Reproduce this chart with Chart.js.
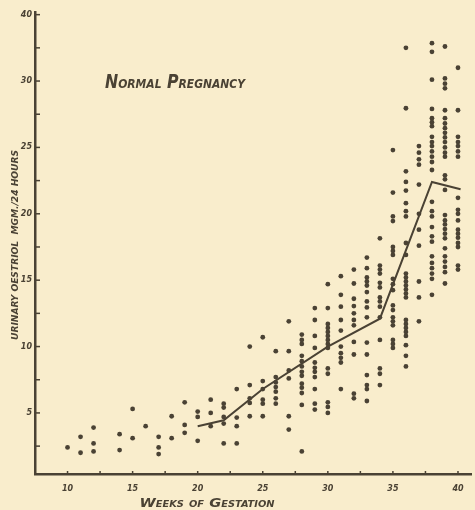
<!DOCTYPE html>
<html>
<head>
<meta charset="utf-8">
<script src="https://cdn.jsdelivr.net/npm/chart.js@4.4.1/dist/chart.umd.min.js"></script>
<style>
  html, body { margin: 0; padding: 0; background: #f9edcc; }
  #wrap { width: 475px; height: 510px; }
</style>
</head>
<body>
<div id="wrap"><canvas id="chart" width="475" height="510"></canvas></div>
<script>
// weeks of gestation that have readings
const weeks = [10, 11, 12, 14, 15, 16, 17, 18, 19, 20, 21, 22, 23, 24, 25, 26, 27, 28, 29, 30, 31, 32, 33, 34, 35, 36, 37, 38, 39, 40];

// urinary oestriol, mgm / 24 hours, one list per week
const oestriol = [
  [2.4],
  [3.2, 2.0],
  [3.9, 2.7, 2.1],
  [3.4, 2.2],
  [5.3, 3.1],
  [4.0],
  [3.2, 2.4, 1.9],
  [4.75, 3.1],
  [5.8, 4.1, 3.5],
  [5.1, 4.7, 2.9],
  [6.0, 5.0, 4.0],
  [5.7, 5.4, 4.7, 4.2, 2.7],
  [6.8, 4.65, 4.0, 2.7],
  [10.0, 7.1, 6.1, 5.75, 4.75],
  [10.7, 7.4, 6.8, 6.0, 5.7, 4.75],
  [9.65, 7.7, 7.3, 6.95, 6.6, 6.1, 5.7],
  [11.9, 9.65, 8.2, 7.6, 4.75, 3.75],
  [10.9, 10.5, 10.2, 9.3, 8.9, 8.5, 8.1, 7.8, 7.2, 6.9, 6.5, 5.6, 2.1],
  [12.9, 12.0, 10.8, 9.9, 8.8, 8.4, 8.1, 7.7, 6.8, 5.7, 5.25],
  [14.7, 12.9, 11.7, 11.4, 11.1, 10.8, 10.5, 10.2, 9.9, 8.35, 7.95, 5.8, 5.45, 5.0],
  [15.3, 13.9, 13.0, 12.0, 11.2, 10.0, 9.5, 9.15, 8.8, 6.8],
  [15.8, 14.75, 13.6, 13.05, 12.5, 12.0, 11.6, 10.35, 9.4, 6.45, 6.1],
  [16.7, 15.9, 15.2, 14.9, 14.6, 14.1, 13.4, 12.95, 12.2, 10.3, 9.4, 7.85, 7.1, 6.8, 5.9],
  [18.15, 16.1, 15.8, 15.5, 14.8, 14.45, 13.7, 13.4, 13.0, 12.2, 10.5, 8.35, 7.95, 7.1],
  [24.8, 21.6, 19.8, 19.45, 17.5, 17.2, 16.9, 15.1, 14.7, 14.25, 13.1, 12.75, 12.2, 11.9, 11.6, 10.5, 10.2, 9.9],
  [32.5, 27.95, 23.2, 22.4, 21.75, 20.8, 20.2, 19.8, 17.8, 16.9, 15.5, 15.2, 14.9, 14.6, 14.3, 14.0, 13.7, 12.0, 11.7, 11.4, 11.1, 10.8, 10.1, 9.3, 8.5],
  [25.1, 24.6, 24.1, 23.7, 22.2, 20.0, 18.8, 17.6, 14.9, 13.7, 11.9],
  [32.85, 32.2, 30.1, 27.9, 27.2, 26.9, 26.6, 25.8, 25.4, 25.1, 24.7, 24.3, 23.9, 23.3, 20.9, 20.2, 19.8, 19.0, 18.3, 17.9, 16.8, 16.3, 15.9, 15.5, 15.1, 13.9],
  [32.6, 30.2, 29.8, 29.45, 27.8, 27.2, 26.8, 26.45, 26.1, 25.75, 25.4, 25.0, 24.6, 24.3, 22.9, 22.6, 21.8, 19.9, 19.5, 19.2, 18.85, 18.5, 18.15, 17.4, 16.8, 16.4, 16.0, 15.6, 14.75],
  [31.0, 27.8, 25.8, 25.4, 25.1, 24.7, 24.3, 21.2, 20.3, 20.0, 19.5, 18.8, 18.5, 18.2, 17.8, 17.5, 16.1, 15.8]
];

// the drawn mean line
const meanWeeks = [20, 22, 25, 30, 34, 38, 40.2];
const meanValues = [4.0, 4.45, 6.8, 10.0, 12.1, 22.4, 21.85];

// axis ticks (every 2.5, labelled every 5, as hand drawn)
const xTickValues = [10, 12.5, 15, 17.5, 20, 22.5, 25, 27.5, 30, 32.5, 35, 37.5, 40];
const xTickLabels = ["10", "", "15", "", "20", "", "25", "", "30", "", "35", "", "40"];
const yTickValues = [2.5, 5, 7.5, 10, 12.5, 15, 17.5, 20, 22.5, 25, 27.5, 30, 32.5, 35];
const yTickLabels = ["", "5", "", "10", "", "15", "", "20", "", "25", "", "30", "", "40"];

const ink = "#4a4234";
const handFont = '"DejaVu Sans"';

let points = [];
weeks.forEach((w, i) => {
  oestriol[i].forEach(v => points.push({x: w, y: v}));
});
let meanLine = meanWeeks.map((w, i) => ({x: w, y: meanValues[i]}));

// draw text squeezed/stretched to a given width
function fitText(ctx, text, cx, cy, width, font, angle) {
  ctx.save();
  ctx.font = font;
  ctx.translate(cx, cy);
  if (angle) ctx.rotate(angle);
  let w = ctx.measureText(text).width;
  ctx.scale(width / w, 1);
  ctx.textAlign = "center";
  ctx.textBaseline = "alphabetic";
  ctx.fillText(text, 0, 0);
  ctx.restore();
}

const handDrawn = {
  id: 'handDrawn',
  afterDraw(chart) {
    const ctx = chart.ctx;
    const xs = chart.scales.x, ys = chart.scales.y;
    ctx.save();
    ctx.strokeStyle = ink;
    ctx.fillStyle = ink;
    ctx.lineWidth = 1.5;
    // tick marks pointing into the plot
    xTickValues.forEach(v => {
      let px = xs.getPixelForValue(v);
      ctx.beginPath();
      ctx.moveTo(px, xs.top + 1);
      ctx.lineTo(px, xs.top - 3);
      ctx.stroke();
    });
    yTickValues.forEach(v => {
      let py = ys.getPixelForValue(v);
      ctx.beginPath();
      ctx.moveTo(ys.right - 1, py);
      ctx.lineTo(ys.right + 5, py);
      ctx.stroke();
    });
    // lettering
    fitText(ctx, "Normal Pregnancy", 175, 88, 140, "italic small-caps bold 19px " + handFont);
    fitText(ctx, "Weeks of Gestation", 207, 507, 135, "italic small-caps bold 12px " + handFont);
    fitText(ctx, "URINARY OESTRIOL  MGM./24 HOURS", 18, 245, 190, "italic bold 8px " + handFont, -Math.PI / 2);
    ctx.restore();
  }
};

let ctx = document.getElementById('chart');
let chart = new Chart(ctx, {
  type: 'scatter',
  data: {
    datasets: [{
      data: points,
      pointRadius: 2.4,
      pointBackgroundColor: ink,
      pointBorderWidth: 0
    }, {
      type: 'line',
      data: meanLine,
      borderColor: ink,
      borderWidth: 2,
      pointRadius: 0,
      tension: 0,
      fill: false
    }]
  },
  options: {
    responsive: false,
    animation: false,
    devicePixelRatio: 1,
    layout: { padding: { top: 12, left: 0, right: 0, bottom: 0 } },
    plugins: { legend: { display: false }, tooltip: { enabled: false } },
    scales: {
      x: {
        type: 'linear',
        min: 7.5,
        max: 41,
        afterBuildTicks: s => { s.ticks = xTickValues.map(v => ({value: v})); },
        afterFit: s => { s.height = 36; },
        grid: { display: false, drawTicks: false },
        border: { display: true, color: ink, width: 2.5 },
        ticks: {
          callback: (v, i) => xTickLabels[i],
          color: ink,
          padding: 10,
          maxRotation: 0,
          autoSkip: false,
          font: { family: handFont, size: 8, style: 'italic', weight: 'bold' }
        }
      },
      y: {
        type: 'linear',
        min: 0.4,
        max: 35.2,
        afterBuildTicks: s => { s.ticks = yTickValues.map(v => ({value: v})); },
        afterFit: s => { s.width = 35; },
        grid: { display: false, drawTicks: false },
        border: { display: true, color: ink, width: 2.5 },
        ticks: {
          callback: (v, i) => yTickLabels[i],
          color: ink,
          padding: 3,
          autoSkip: false,
          font: { family: handFont, size: 8, style: 'italic', weight: 'bold' }
        }
      }
    }
  },
  plugins: [handDrawn]
});
</script>
</body>
</html>
